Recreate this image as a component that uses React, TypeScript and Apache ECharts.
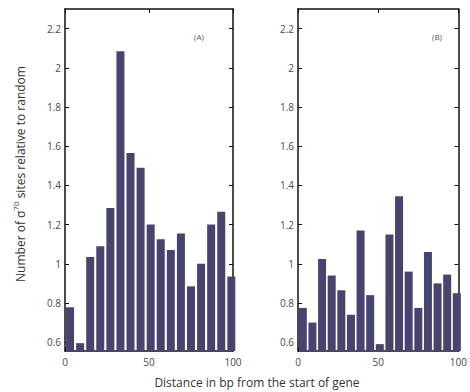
import React, { useEffect, useRef } from 'react';
import * as echarts from 'echarts';

const binCenters = [3, 9, 15, 21, 27, 33, 39, 45, 51, 57, 63, 69, 75, 81, 87, 93, 99];
const seriesA = [0.778, 0.595, 1.035, 1.09, 1.285, 2.085, 1.565, 1.49, 1.2, 1.125, 1.07, 1.155, 0.885, 1.0, 1.2, 1.265, 0.935];
const seriesB = [0.775, 0.7, 1.025, 0.94, 0.865, 0.74, 1.17, 0.84, 0.59, 1.15, 1.345, 0.96, 0.775, 1.06, 0.9, 0.945, 0.85];
const yTicks = [0.6, 0.8, 1, 1.2, 1.4, 1.6, 1.8, 2, 2.2];
const panelLabels = ['(A)', '(B)'];
const xLabel = 'Distance in bp from the start of gene';

const FONT = '"Open Sans", "DejaVu Sans", sans-serif';
const BAR = '#47456e';
const LABEL = '#4a4a4a';

export default function App() {
  const ref = useRef<HTMLDivElement>(null);
  useEffect(() => {
    if (!ref.current) return;
    const chart = echarts.init(ref.current, null, { renderer: 'svg' });
    const grids = [
      { left: 65, top: 9, width: 168, height: 342 },
      { left: 298, top: 9, width: 168, height: 342 },
    ];
    const xAxis: any[] = [];
    const yAxis: any[] = [];
    grids.forEach((_, g) => {
      const line = { show: true, onZero: false, lineStyle: { color: '#111', width: 1.5 } };
      xAxis.push({
        type: 'value', gridIndex: g, min: 0, max: 100, interval: 50, position: 'bottom',
        axisLine: line, axisTick: { inside: true, length: 4, lineStyle: { color: '#111' } },
        axisLabel: { color: LABEL, fontSize: 10, fontFamily: FONT, margin: 6 },
        splitLine: { show: false },
      });
      xAxis.push({
        type: 'value', gridIndex: g, min: 0, max: 100, interval: 50, position: 'top',
        axisLine: line, axisTick: { inside: true, length: 4, lineStyle: { color: '#111' } },
        axisLabel: { show: false }, splitLine: { show: false },
      });
      yAxis.push({
        type: 'value', gridIndex: g, min: 0.555, max: 2.3, position: 'left',
        axisLine: line,
        axisTick: { show: true, inside: true, length: 4, customValues: yTicks, lineStyle: { color: '#111' } },
        axisLabel: { color: LABEL, fontSize: 10, fontFamily: FONT, margin: 4, customValues: yTicks },
        splitLine: { show: false },
      });
      yAxis.push({
        type: 'value', gridIndex: g, min: 0.555, max: 2.3, position: 'right',
        axisLine: line,
        axisTick: { show: true, inside: true, length: 4, customValues: yTicks, lineStyle: { color: '#111' } },
        axisLabel: { show: false }, splitLine: { show: false },
      });
    });
    const mk = (vals: number[], g: number) => ({
      type: 'bar',
      xAxisIndex: g * 2,
      yAxisIndex: g * 2,
      data: binCenters.map((c, i) => [c, vals[i]]),
      barWidth: 8,
      clip: true,
      itemStyle: { color: BAR },
      silent: true,
    });
    chart.setOption({
      animation: false,
      grid: grids,
      xAxis,
      yAxis,
      series: [mk(seriesA, 0), mk(seriesB, 1)],
      graphic: [
        {
          type: 'text', x: 199, y: 36,
          style: { text: panelLabels[0], fontSize: 8, fill: '#555', fontFamily: FONT, align: 'center', verticalAlign: 'middle' },
        },
        {
          type: 'text', x: 437, y: 36,
          style: { text: panelLabels[1], fontSize: 8, fill: '#555', fontFamily: FONT, align: 'center', verticalAlign: 'middle' },
        },
        {
          type: 'text', x: 257, y: 382,
          style: { text: xLabel, fontSize: 12, fill: '#333', fontFamily: FONT, align: 'center', verticalAlign: 'middle' },
        },
        {
          type: 'text', x: 20, y: 174, rotation: Math.PI / 2,
          style: {
            text: 'Number of σ{sup|70} sites relative to random',
            fontSize: 12, fill: '#333', fontFamily: FONT, align: 'center', verticalAlign: 'middle',
            rich: {
              sup: { fontSize: 8, fill: '#333', fontFamily: FONT, padding: [0, 0, 9, 0] },
            },
          },
        },
      ],
    });
    return () => chart.dispose();
  }, []);
  return <div ref={ref} style={{ width: 470, height: 392, position: 'absolute', left: 0, top: 0 }} />;
}
